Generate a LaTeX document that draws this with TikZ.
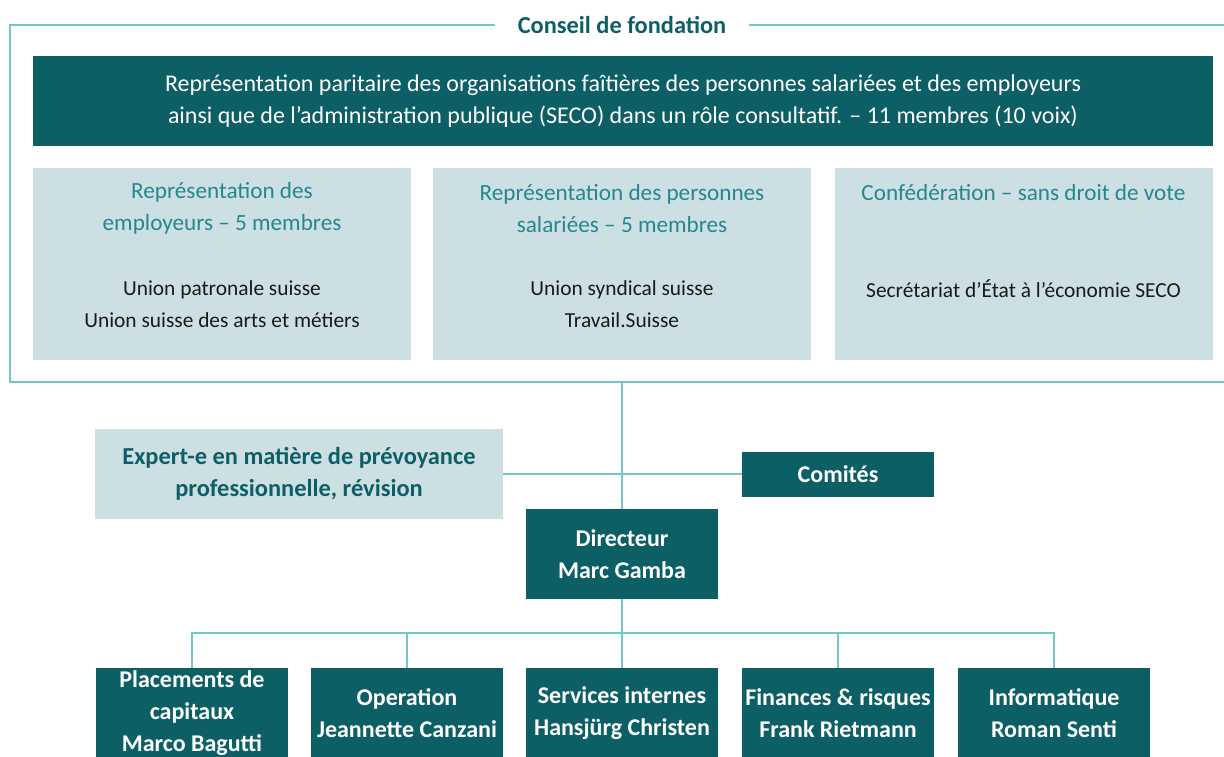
\documentclass[tikz,border=0pt]{standalone}
\usepackage{fontspec}
\setmainfont{Carlito}
\usetikzlibrary{positioning,calc}
\definecolor{tealdark}{HTML}{0D5F66}
\definecolor{teallight}{HTML}{CCDFE2}
\definecolor{tealline}{HTML}{74C6CB}
\definecolor{tealtext}{HTML}{258790}
\definecolor{bodygray}{HTML}{1A1A1A}
\tikzset{
  link/.style={draw=tealline,line width=0.8pt},
  darkbox/.style={fill=tealdark,text=white,font=\fontsize{12}{16}\selectfont\bfseries,align=center,inner sep=0pt,minimum width=96pt,minimum height=45pt},
  lightbox/.style={fill=teallight,inner sep=0pt,minimum width=189pt,minimum height=96pt},
  headtxt/.style={text=tealtext,font=\fontsize{11.6}{16}\selectfont,align=center,inner sep=0pt},
  bodytxt/.style={text=bodygray,font=\fontsize{10.7}{16}\selectfont,align=center,inner sep=0pt},
  titletxt/.style={text=tealdark,font=\fontsize{12.2}{14}\selectfont\bfseries,inner xsep=11.25pt,inner ysep=2pt}
}
\begin{document}
\begin{tikzpicture}[x=0.5pt,y=-0.5pt]
\useasboundingbox (0,0) rectangle (1224,756);

% conseil de fondation
\node[titletxt] (conseil) at (622,25) {Conseil de fondation};
\draw[link] (conseil.west) -- (10,25) -- (10,382) -- (1224,382);
\draw[link] (conseil.east) -- (1224,25);

\node[darkbox,font=\fontsize{12}{16}\selectfont,minimum width=590pt] (banner) at (623,101)
  {Représentation paritaire des organisations faîtières des personnes salariées et des employeurs\\
   ainsi que de l’administration publique (SECO) dans un rôle consultatif. – 11 membres (10 voix)};

\node[lightbox] (emp) at (222,264) {};
\node[headtxt] (emphead) at ($(emp.north)+(0,41)$) {Représentation des\\employeurs – 5 membres};
\node[bodytxt] (empbody) at ($(emp.north)+(0,137)$) {Union patronale suisse\\Union suisse des arts et métiers};

\node[lightbox] (sal) at (622,264) {};
\node[headtxt] (salhead) at ($(sal.north)+(0,41)$) {Représentation des personnes\\salariées – 5 membres};
\node[bodytxt] (salbody) at ($(sal.north)+(0,137)$) {Union syndical suisse\\Travail.Suisse};

\node[lightbox] (conf) at (1023.5,264) {};
\node[headtxt] (confhead) at ($(conf.north)+(0,25)$) {Confédération – sans droit de vote};
\node[bodytxt] (confbody) at ($(conf.north)+(0,121)$) {Secrétariat d’État à l’économie SECO};

% direction
\coordinate (frame) at (622,382);
\node[lightbox,minimum width=204pt,minimum height=45pt,text=tealdark,font=\fontsize{12.2}{16}\selectfont\bfseries,align=center] (expert) at (299,474)
  {Expert-e en matière de prévoyance\\professionnelle, révision};
\node[darkbox,minimum height=22.5pt] (comites) at (838,474.5) {Comités};
\node[darkbox] (dir) at (622,554) {Directeur\\Marc Gamba};
\draw[link] (frame) -- (dir.north);
\draw[link] (expert.east) -- (expert.east -| comites.west);

% departements
\node[darkbox] (cap) at (192,713) {Placements de\\capitaux\\Marco Bagutti};
\node[darkbox] (op) at (407,713) {Operation\\Jeannette Canzani};
\node[darkbox] (srv) at (622,713) {Services internes\\Hansjürg Christen};
\node[darkbox] (fin) at (838,713) {Finances \& risques\\Frank Rietmann};
\node[darkbox] (info) at (1054,713) {Informatique\\Roman Senti};
\coordinate (bus) at (622,633);
\draw[link] (dir.south) -- (bus);
\foreach \n in {cap,op,srv,fin,info}
  \draw[link] (bus) -| (\n.north);
\end{tikzpicture}
\end{document}
